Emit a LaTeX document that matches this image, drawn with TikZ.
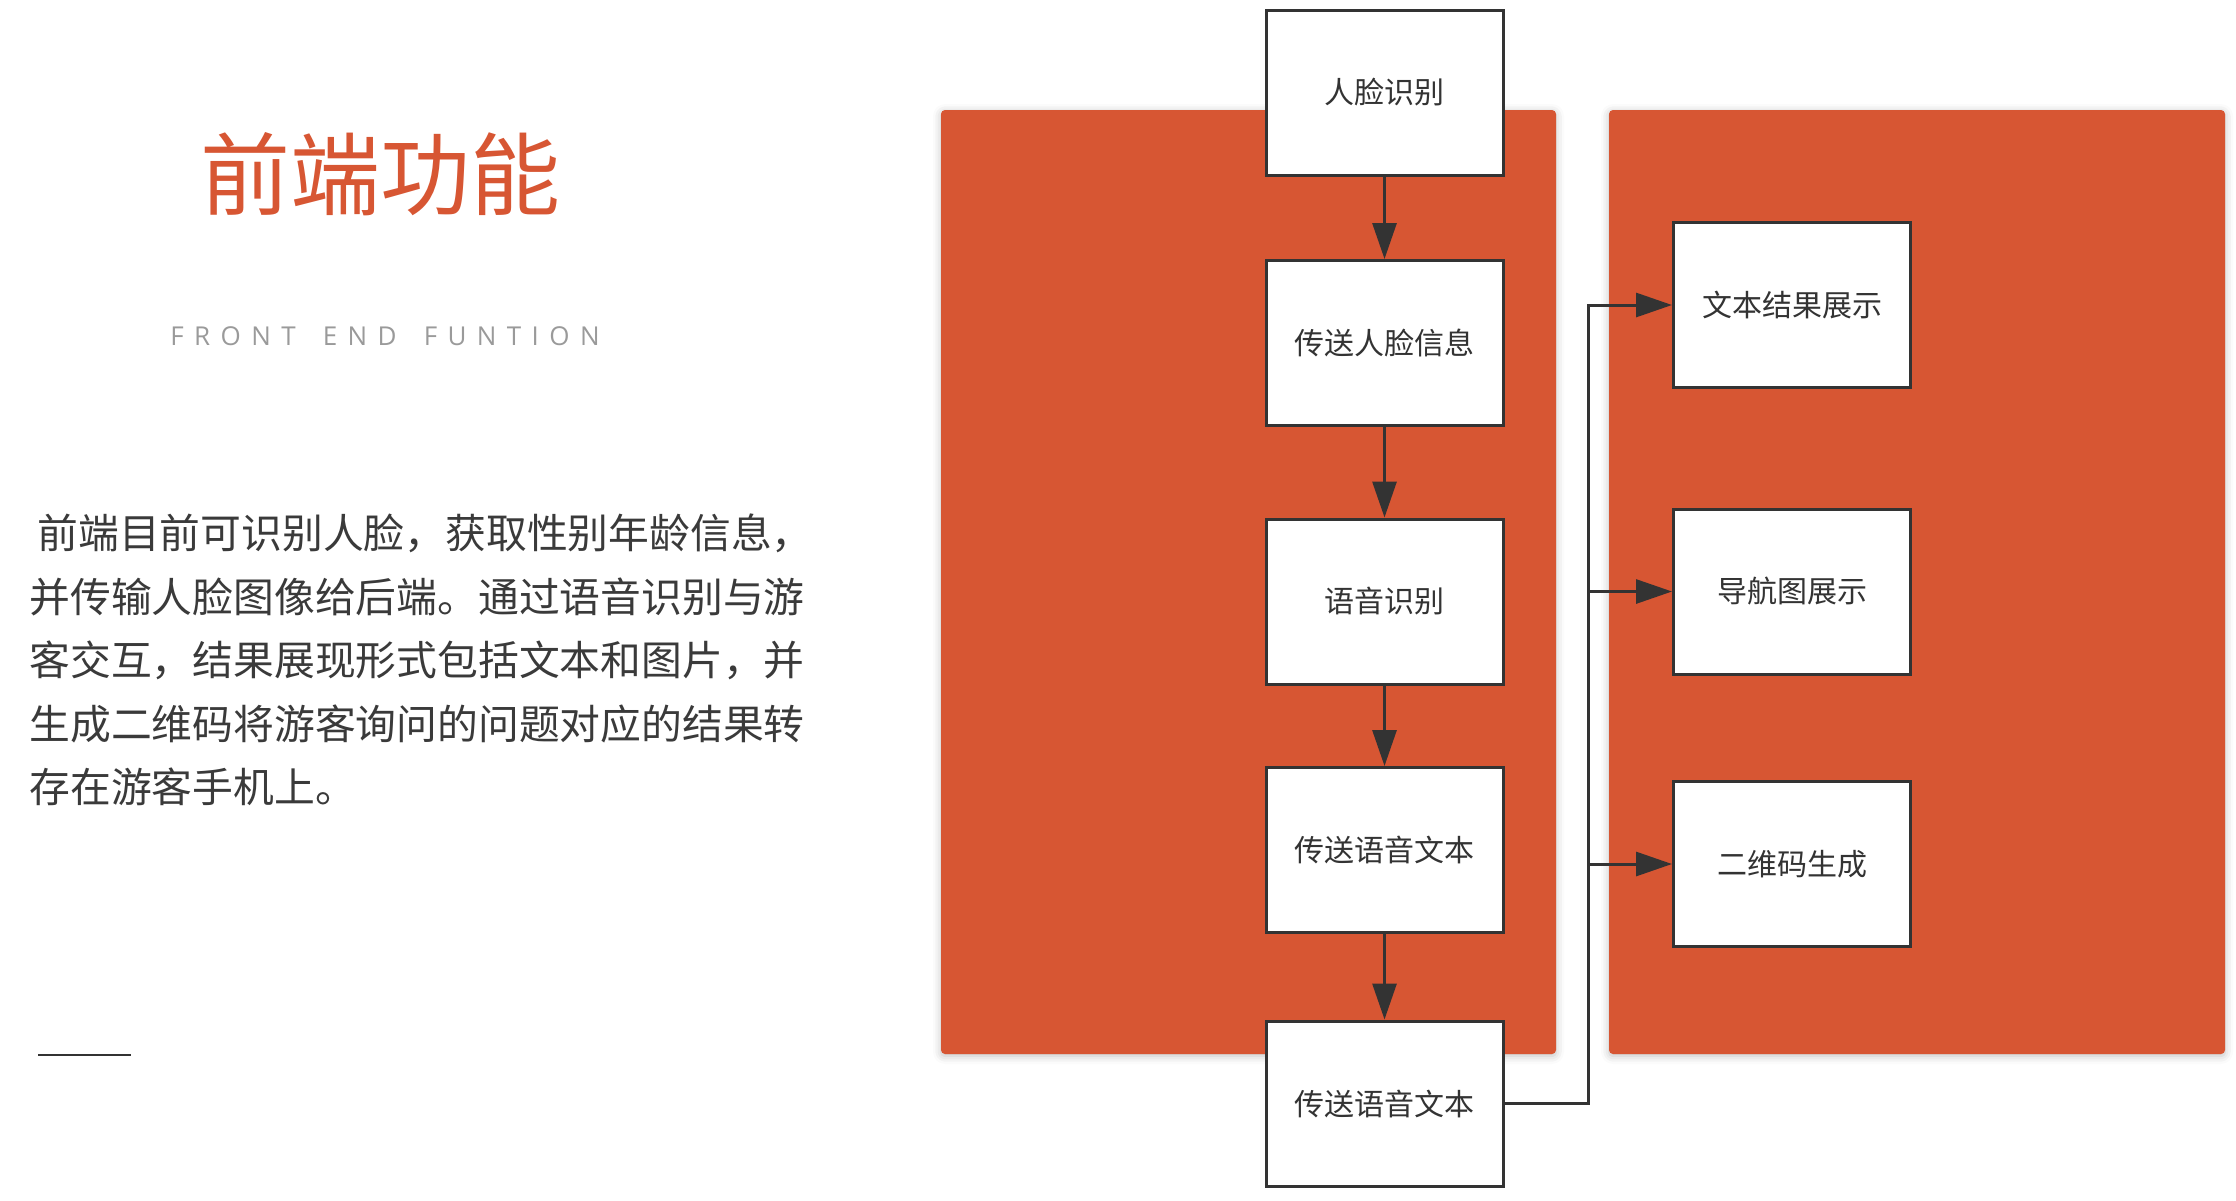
\documentclass[tikz,border=0pt]{standalone}
\usepackage{fontspec}
\newfontfamily\cjk{Noto Sans CJK SC}
\newfontfamily\subfont[LetterSpace=40]{Open Sans}
\usetikzlibrary{arrows.meta,shadows.blur}

\definecolor{panelred}{HTML}{D75633}
\definecolor{linegray}{HTML}{333333}
\definecolor{subgray}{HTML}{9A9A9A}
\definecolor{bodygray}{HTML}{3A3A3A}

\tikzset{
  stage/.style={draw=linegray, line width=1.5pt, fill=white, inner sep=0pt,
    minimum width=118.5pt, minimum height=82.5pt,
    font=\cjk\fontsize{15}{15}\selectfont, text=linegray},
  flow/.style={draw=linegray, line width=1.5pt, -{Triangle[length=18pt,width=12pt]}},
  panel/.style={fill=panelred, rounded corners=2pt,
    blur shadow={shadow xshift=0pt, shadow yshift=-1pt, shadow blur radius=4pt, shadow opacity=25}},
  body/.style={anchor=west, inner sep=0pt, font=\cjk\fontsize{20.4}{20.4}\selectfont, text=bodygray}
}

\begin{document}
\begin{tikzpicture}[x=0.5pt, y=-0.5pt]
\useasboundingbox (0,0) rectangle (2236,1200);

% background panels
\fill[panel] (941,110) rectangle (1556,1054);
\fill[panel] (1609,110) rectangle (2225,1054);

% left column: title and text
\node[font=\cjk\fontsize{45}{45}\selectfont, text=panelred] (title) at (380,174) {前端功能};
\node[font=\subfont\fontsize{13}{13}\selectfont, text=subgray] (subtitle) at (385,336)
  {FRONT\hspace{5pt} END\hspace{5pt} FUNTION};

\node[body] (line1) at (37,533) {前端目前可识别人脸，获取性别年龄信息，};
\node[body] (line2) at (29,597) {并传输人脸图像给后端。通过语音识别与游};
\node[body] (line3) at (29,660) {客交互，结果展现形式包括文本和图片，并};
\node[body] (line4) at (29,724) {生成二维码将游客询问的问题对应的结果转};
\node[body] (line5) at (29,787) {存在游客手机上。};

\draw[linegray, line width=1pt] (38,1055) -- (131,1055);

% main flow
\node[stage] (face)  at (1384.5,92.5)  {人脸识别};
\node[stage] (send1) at (1384.5,343)   {传送人脸信息};
\node[stage] (voice) at (1384.5,601.5) {语音识别};
\node[stage] (text1) at (1384.5,850)   {传送语音文本};
\node[stage] (text2) at (1384.5,1103.5) {传送语音文本};

% outputs
\node[stage] (show)  at (1792,305)   {文本结果展示};
\node[stage] (nav)   at (1792,591.5) {导航图展示};
\node[stage] (qr)    at (1792,864)   {二维码生成};

\draw[flow] (face) -- (send1);
\draw[flow] (send1) -- (voice);
\draw[flow] (voice) -- (text1);
\draw[flow] (text1) -- (text2);

\coordinate (bus) at (1588,1103.5);
\draw[flow] (text2.east) -- (bus) |- (show.west);
\draw[flow] (bus) |- (nav.west);
\draw[flow] (bus) |- (qr.west);
\end{tikzpicture}
\end{document}
